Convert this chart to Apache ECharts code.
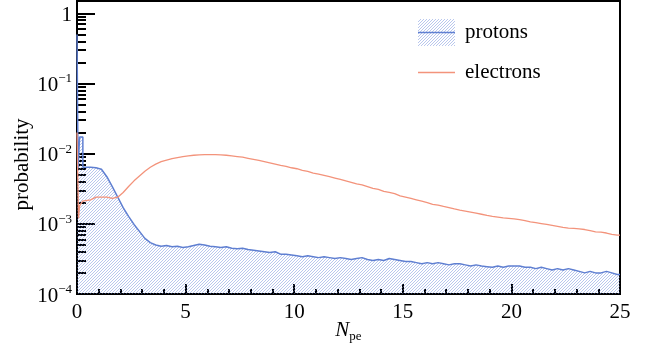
<!DOCTYPE html>
<html>
<head>
<meta charset="utf-8">
<script src="https://cdn.jsdelivr.net/npm/echarts@6/dist/echarts.min.js"></script>
<style>
  html, body { margin: 0; padding: 0; background: #fff; }
  #chart { width: 645px; height: 347px; }
</style>
</head>
<body>
<div id="chart"></div>
<script>
// head: outline points of the narrow first bins; then values of 0.25-wide bins from 0.5
const binWidth = 0.25;
const mainStart = 0.5;
const xMax = 25;

const protonHead = [[0, 0.5], [0.05, 0.5], [0.05, 0.0062], [0.12, 0.0062], [0.12, 0.0173], [0.27, 0.0173], [0.27, 0.0064]];
const protonValues = [
  0.0064, 0.0063, 0.0060, 0.0047, 0.0034, 0.0024, 0.0017, 0.00128, 0.00098, 0.00078,
  0.00062, 0.00054, 0.00050, 0.00048, 0.00049, 0.00047, 0.00048, 0.00046, 0.00047, 0.00049,
  0.00051, 0.00050, 0.00048, 0.00047, 0.00046, 0.00047, 0.00045, 0.00044, 0.00045, 0.00043,
  0.00042, 0.00041, 0.00040, 0.00039, 0.00040, 0.00037, 0.00037, 0.00036, 0.00035, 0.00034,
  0.00035, 0.00034, 0.00033, 0.00034, 0.00033, 0.00032, 0.00033, 0.00032, 0.00031, 0.00032,
  0.00033, 0.00031, 0.00030, 0.00031, 0.00030, 0.00032, 0.00031, 0.00030, 0.00029, 0.00029,
  0.00028, 0.00027, 0.00028, 0.00027, 0.00028, 0.00027, 0.00026, 0.00027, 0.00027, 0.00026,
  0.00025, 0.00026, 0.00025, 0.000245, 0.00024, 0.00025, 0.00024, 0.00025, 0.00025, 0.00025,
  0.00024, 0.00024, 0.00023, 0.00024, 0.00023, 0.00022, 0.00023, 0.00022, 0.00023, 0.00022,
  0.00021, 0.00020, 0.00021, 0.00020, 0.00020, 0.00021, 0.00020, 0.00019
];

const electronHead = [[0, 0.02], [0.07, 0.02], [0.07, 0.0012], [0.12, 0.0018], [0.25, 0.0021]];
const electronValues = [
  0.0022, 0.0024, 0.0024, 0.0024, 0.0023, 0.0024, 0.0028, 0.0034, 0.0041, 0.0048,
  0.0056, 0.0064, 0.0071, 0.0077, 0.0081, 0.0085, 0.0088, 0.0091, 0.0093, 0.0095,
  0.0096, 0.0097, 0.0097, 0.0097, 0.0096, 0.0095, 0.0093, 0.0091, 0.0089, 0.0086,
  0.0083, 0.0080, 0.0077, 0.0074, 0.0071, 0.0068, 0.0066, 0.0063, 0.0061, 0.0058,
  0.0056, 0.0053, 0.0051, 0.0049, 0.0047, 0.0045, 0.0043, 0.0041, 0.0039, 0.0037,
  0.0036, 0.0034, 0.0032, 0.0031, 0.0029, 0.0028, 0.0027, 0.0025, 0.0024, 0.0023,
  0.0022, 0.0021, 0.0020, 0.0019, 0.00185, 0.00177, 0.00170, 0.00163, 0.00157, 0.00152,
  0.00147, 0.00142, 0.00137, 0.00132, 0.00128, 0.00125, 0.00122, 0.00120, 0.00118, 0.00115,
  0.00111, 0.00107, 0.00104, 0.00101, 0.00098, 0.00095, 0.00092, 0.00089, 0.00087, 0.00086,
  0.00085, 0.00083, 0.00080, 0.00077, 0.00076, 0.00074, 0.00071, 0.00069
];

const FONT = 'Liberation Serif';
const protonColor = '#5f7fd1';
const electronColor = '#f3937b';

function histPoints(head, values) {
  const pts = head.slice();
  values.forEach((v, i) => pts.push([mainStart + (i + 0.5) * binWidth, v]));
  pts.push([xMax, values[values.length - 1]]);
  return pts;
}

function hatchCanvas(w, h, withLine) {
  const c = document.createElement('canvas');
  c.width = w; c.height = h;
  const ctx = c.getContext('2d');
  ctx.strokeStyle = 'rgba(100,130,215,0.45)';
  ctx.lineWidth = 1;
  for (let k = -h; k < w + h; k += 3) {
    ctx.beginPath();
    ctx.moveTo(k, h);
    ctx.lineTo(k + h, 0);
    ctx.stroke();
  }
  if (withLine) {
    ctx.strokeStyle = protonColor;
    ctx.lineWidth = 1.5;
    ctx.beginPath();
    ctx.moveTo(0, h / 2);
    ctx.lineTo(w, h / 2);
    ctx.stroke();
  }
  return c;
}

const pattern = hatchCanvas(3, 3, false);
const legendIcon = 'image://' + hatchCanvas(37, 27, true).toDataURL();

const chart = echarts.init(document.getElementById('chart'));
chart.setOption({
  animation: false,
  grid: {
    left: 77, right: 25, top: 1, bottom: 53,
    outerBoundsMode: 'none', containLabel: false,
    show: true, borderColor: '#000', borderWidth: 2
  },
  legend: [
    {
      data: ['protons'], left: 418, top: 19, padding: 0,
      itemWidth: 37, itemHeight: 27, icon: legendIcon,
      textStyle: { fontFamily: FONT, fontSize: 21, color: '#000', padding: [0, 0, 0, 5] }
    },
    {
      data: ['electrons'], left: 418, top: 62, padding: 0,
      itemWidth: 37, itemHeight: 1.5, icon: 'rect',
      itemStyle: { color: electronColor },
      textStyle: { fontFamily: FONT, fontSize: 21, color: '#000', padding: [0, 0, 0, 5] }
    }
  ],
  xAxis: {
    type: 'value', min: 0, max: xMax, interval: 5,
    name: '{i|N}{s|pe}', nameLocation: 'middle', nameGap: 24, nameMoveOverlap: false,
    nameTextStyle: {
      rich: {
        i: { fontFamily: FONT, fontSize: 21, fontStyle: 'italic', color: '#000' },
        s: { fontFamily: FONT, fontSize: 13, color: '#000', verticalAlign: 'bottom', padding: [12, 0, 0, 0] }
      }
    },
    axisLine: { lineStyle: { color: '#000', width: 2 } },
    axisTick: { inside: true, length: 10, lineStyle: { color: '#000', width: 2 } },
    minorTick: { show: true, splitNumber: 5, length: 5, lineStyle: { color: '#000', width: 2 } },
    splitLine: { show: false },
    axisLabel: { fontFamily: FONT, fontSize: 21, color: '#000', margin: 8 }
  },
  yAxis: {
    type: 'log', logBase: 10, min: 1e-4, max: 1.5,
    name: 'probability', nameLocation: 'middle', nameGap: 44, nameMoveOverlap: false,
    nameTextStyle: { fontFamily: FONT, fontSize: 21, color: '#000', padding: [0, 34, 0, 0] },
    axisLine: { lineStyle: { color: '#000', width: 2 } },
    axisTick: { inside: true, length: 18, lineStyle: { color: '#000', width: 2 } },
    minorTick: { show: true, splitNumber: 9, length: 9, lineStyle: { color: '#000', width: 2 } },
    splitLine: { show: false },
    axisLabel: {
      margin: 5,
      formatter: function (v) {
        const e = Math.log10(v);
        const r = Math.round(e);
        if (Math.abs(e - r) > 1e-6) return '';
        if (r === 0) return '{b|1}';
        return '{b|10}{s|\u2212' + (-r) + '}';
      },
      rich: {
        b: { fontFamily: FONT, fontSize: 21, color: '#000', lineHeight: 22, padding: [4, 0, 0, 0] },
        s: { fontFamily: FONT, fontSize: 13, color: '#000', verticalAlign: 'top', lineHeight: 14 }
      }
    }
  },
  series: [
    {
      name: 'protons', type: 'line', symbol: 'none',
      data: histPoints(protonHead, protonValues),
      lineStyle: { color: protonColor, width: 1.5 },
      itemStyle: { color: protonColor },
      areaStyle: { origin: 'start', color: { image: pattern, repeat: 'repeat' }, opacity: 1 },
      z: 2
    },
    {
      name: 'electrons', type: 'line', symbol: 'none',
      data: histPoints(electronHead, electronValues),
      lineStyle: { color: electronColor, width: 1.3 },
      itemStyle: { color: electronColor },
      z: 3
    }
  ]
});
</script>
</body>
</html>
